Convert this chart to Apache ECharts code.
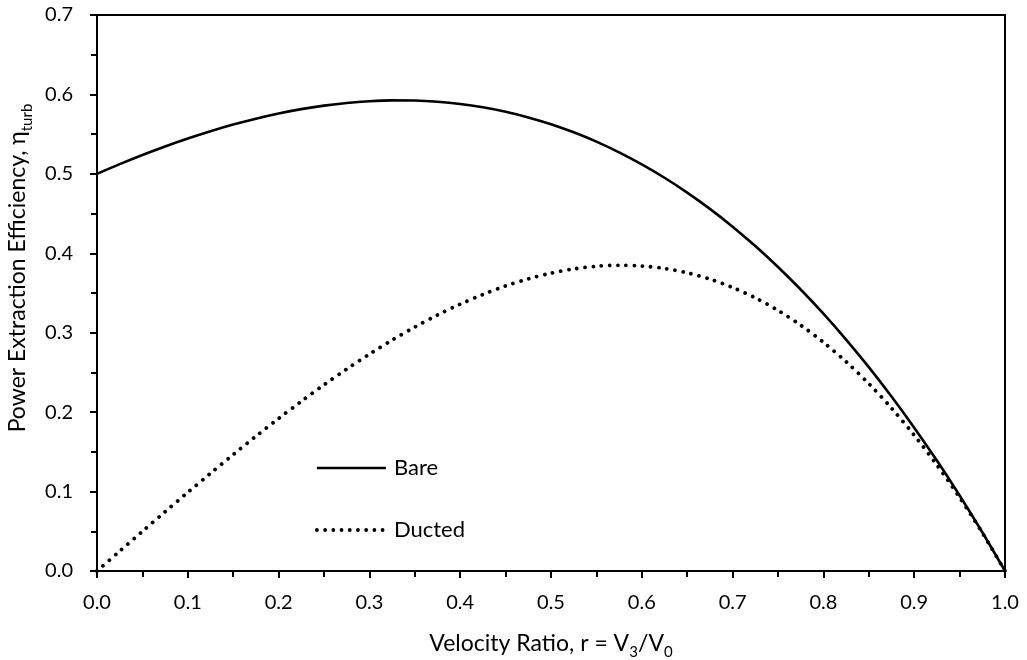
<!DOCTYPE html>
<html>
<head>
<meta charset="utf-8">
<script src="https://cdn.jsdelivr.net/npm/echarts@6/dist/echarts.min.js"></script>
<style>
  html, body { margin: 0; padding: 0; background: #fff; }
  #chart { width: 1027px; height: 660px; }
</style>
</head>
<body>
<div id="chart"></div>
<script>
// Velocity ratio r = V3/V0
const ratio = [0.000, 0.025, 0.050, 0.075, 0.100, 0.125, 0.150, 0.175, 0.200, 0.225,
               0.250, 0.275, 0.300, 0.325, 0.350, 0.375, 0.400, 0.425, 0.450, 0.475,
               0.500, 0.525, 0.550, 0.575, 0.600, 0.625, 0.650, 0.675, 0.700, 0.725,
               0.750, 0.775, 0.800, 0.825, 0.850, 0.875, 0.900, 0.925, 0.950, 0.975, 1.000];
// Power extraction efficiency, bare turbine
const bare = [0.5000, 0.5122, 0.5237, 0.5345, 0.5445, 0.5537, 0.5621, 0.5695, 0.5760, 0.5815,
              0.5859, 0.5893, 0.5915, 0.5925, 0.5923, 0.5908, 0.5880, 0.5838, 0.5782, 0.5711,
              0.5625, 0.5523, 0.5406, 0.5271, 0.5120, 0.4951, 0.4764, 0.4559, 0.4335, 0.4091,
              0.3828, 0.3544, 0.3240, 0.2914, 0.2567, 0.2197, 0.1805, 0.1390, 0.0951, 0.0488, 0.0000];
// Power extraction efficiency, ducted turbine
const ducted = [0.0000, 0.0250, 0.0499, 0.0746, 0.0990, 0.1230, 0.1466, 0.1696, 0.1920, 0.2136,
                0.2344, 0.2542, 0.2730, 0.2907, 0.3071, 0.3223, 0.3360, 0.3482, 0.3589, 0.3678,
                0.3750, 0.3803, 0.3836, 0.3849, 0.3840, 0.3809, 0.3754, 0.3675, 0.3570, 0.3439,
                0.3281, 0.3095, 0.2880, 0.2635, 0.2359, 0.2051, 0.1710, 0.1335, 0.0926, 0.0481, 0.0000];

const seriesNames = ['Bare', 'Ducted'];

const FONT = 'Lato, "Open Sans", sans-serif';
const pairs = (ys) => ratio.map((x, i) => [x, ys[i]]);

// Line styles shared by the curves and their legend samples
const solidStyle = { color: '#000', width: 2.6, type: 'solid' };
const dottedStyle = { color: '#000', width: 3.8, type: [0.01, 8.2], cap: 'round' };

const chart = echarts.init(document.getElementById('chart'), null, { renderer: 'canvas' });

const subRich = {
  m: { fontFamily: FONT, fontSize: 23, color: '#000', lineHeight: 26, verticalAlign: 'bottom' },
  s: { fontFamily: FONT, fontSize: 15, color: '#000', lineHeight: 26, verticalAlign: 'bottom', padding: [0, 0, -5, 0] }
};

const axisCommon = {
  type: 'value',
  splitLine: { show: false },
  axisLine: { show: true, onZero: false, lineStyle: { color: '#000', width: 2 } },
  axisTick: { show: true, inside: false, length: 7, lineStyle: { color: '#000', width: 2 } },
  minorTick: { show: true, splitNumber: 2, length: 6, lineStyle: { color: '#000', width: 2 } },
  axisLabel: { color: '#000', fontFamily: FONT, fontSize: 20, formatter: v => v.toFixed(1) }
};

chart.setOption({
  animation: false,
  backgroundColor: '#fff',
  grid: {
    left: 97, right: 22, top: 15, bottom: 89,
    outerBoundsMode: 'none',
    containLabel: false,
    show: true, borderColor: '#000', borderWidth: 2
  },
  legend: {
    data: [
      { name: seriesNames[0], lineStyle: solidStyle },
      { name: seriesNames[1], lineStyle: dottedStyle }
    ],
    orient: 'vertical',
    left: 310, top: 452,
    itemWidth: 69, itemHeight: 26, itemGap: 40,
    itemStyle: { opacity: 0 },
    textStyle: { color: '#000', fontFamily: FONT, fontSize: 22, padding: [0, 0, 0, 3] }
  },
  xAxis: Object.assign({}, axisCommon, {
    min: 0, max: 1, interval: 0.1,
    axisLabel: Object.assign({}, axisCommon.axisLabel, { margin: 22 }),
    name: '{m|Velocity Ratio, r = V}{s|3}{m|/V}{s|0}',
    nameLocation: 'middle', nameGap: 58,
    nameTextStyle: { color: '#000', fontFamily: FONT, fontSize: 23, rich: subRich }
  }),
  yAxis: Object.assign({}, axisCommon, {
    min: 0, max: 0.7, interval: 0.1,
    axisLabel: Object.assign({}, axisCommon.axisLabel, { margin: 24 }),
    name: '{m|Power Extraction Efficiency, η}{s|turb}',
    nameLocation: 'middle', nameGap: 65, nameRotate: 90,
    nameTextStyle: { color: '#000', fontFamily: FONT, fontSize: 23, rich: subRich, padding: [0, 0, 0, 50] }
  }),
  series: [
    {
      name: seriesNames[0], type: 'line', data: pairs(bare),
      smooth: 0.3, symbol: 'none',
      lineStyle: solidStyle,
      itemStyle: { color: '#000' }
    },
    {
      name: seriesNames[1], type: 'line', data: pairs(ducted),
      smooth: 0.3, symbol: 'none',
      lineStyle: dottedStyle,
      itemStyle: { color: '#000' }
    }
  ]
});
</script>
</body>
</html>
